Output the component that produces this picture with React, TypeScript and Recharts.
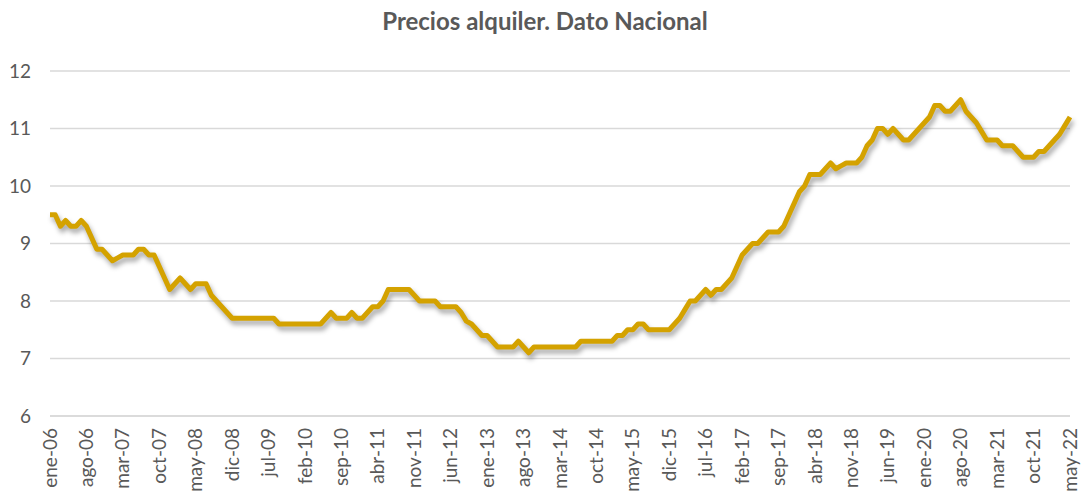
import { LineChart, Line, XAxis, YAxis, CartesianGrid } from 'recharts';

// monthly labels ene-06 .. may-22
const MONTHS = ['ene', 'feb', 'mar', 'abr', 'may', 'jun', 'jul', 'ago', 'sep', 'oct', 'nov', 'dic'];
const START_YEAR = 2006;

// precio medio alquiler (€/m2)
const PRICES = [
  9.5, 9.5, 9.3, 9.4, 9.3, 9.3, 9.4, 9.3, 9.1, 8.9,
  8.9, 8.8, 8.7, 8.75, 8.8, 8.8, 8.8, 8.9, 8.9, 8.8,
  8.8, 8.6, 8.4, 8.2, 8.3, 8.4, 8.3, 8.2, 8.3, 8.3,
  8.3, 8.1, 8.0, 7.9, 7.8, 7.7, 7.7, 7.7, 7.7, 7.7,
  7.7, 7.7, 7.7, 7.7, 7.6, 7.6, 7.6, 7.6, 7.6, 7.6,
  7.6, 7.6, 7.6, 7.7, 7.8, 7.7, 7.7, 7.7, 7.8, 7.7,
  7.7, 7.8, 7.9, 7.9, 8.0, 8.2, 8.2, 8.2, 8.2, 8.2,
  8.1, 8.0, 8.0, 8.0, 8.0, 7.9, 7.9, 7.9, 7.9, 7.8,
  7.65, 7.6, 7.5, 7.4, 7.4, 7.3, 7.2, 7.2, 7.2, 7.2,
  7.3, 7.2, 7.1, 7.2, 7.2, 7.2, 7.2, 7.2, 7.2, 7.2,
  7.2, 7.2, 7.3, 7.3, 7.3, 7.3, 7.3, 7.3, 7.3, 7.4,
  7.4, 7.5, 7.5, 7.6, 7.6, 7.5, 7.5, 7.5, 7.5, 7.5,
  7.6, 7.7, 7.85, 8.0, 8.0, 8.1, 8.2, 8.1, 8.2, 8.2,
  8.3, 8.4, 8.6, 8.8, 8.9, 9.0, 9.0, 9.1, 9.2, 9.2,
  9.2, 9.3, 9.5, 9.7, 9.9, 10.0, 10.2, 10.2, 10.2, 10.3,
  10.4, 10.3, 10.35, 10.4, 10.4, 10.4, 10.5, 10.7, 10.8, 11.0,
  11.0, 10.9, 11.0, 10.9, 10.8, 10.8, 10.9, 11.0, 11.1, 11.2,
  11.4, 11.4, 11.3, 11.3, 11.4, 11.5, 11.3, 11.2, 11.1, 10.95,
  10.8, 10.8, 10.8, 10.7, 10.7, 10.7, 10.6, 10.5, 10.5, 10.5,
  10.6, 10.6, 10.7, 10.8, 10.9, 11.05, 11.2,
];

const Y_TICKS = [6, 7, 8, 9, 10, 11, 12];

const data = PRICES.map((value, i) => {
  const m = i % 12;
  const yy = String((START_YEAR + Math.floor(i / 12)) % 100).padStart(2, '0');
  return { label: `${MONTHS[m]}-${yy}`, value };
});

const FONT = 'Lato, "Open Sans", sans-serif';
const TEXT = '#595959';

const MonthTick = (props: any) => {
  const { x, y, payload } = props;
  return (
    <text
      x={x}
      y={y}
      transform={`rotate(-90, ${x}, ${y})`}
      textAnchor="end"
      dy="0.35em"
      fill={TEXT}
      fontSize={19}
      fontFamily={FONT}
    >
      {payload.value}
    </text>
  );
};

const App = () => {
  return (
    <div style={{ position: 'relative', width: 1081, height: 494, background: '#fff' }}>
      <style>{`body{margin:0} .recharts-line-curve{filter:drop-shadow(2px 4px 2.5px rgba(0,0,0,0.35))}`}</style>
      <div
        style={{
          position: 'absolute',
          top: 6,
          left: 0,
          width: 1090,
          textAlign: 'center',
          fontFamily: FONT,
          fontWeight: 700,
          fontSize: 24,
          color: TEXT,
        }}
      >
        Precios alquiler. Dato Nacional
      </div>
      <LineChart
        width={1081}
        height={494}
        data={data}
        margin={{ top: 71, right: 11, left: 0, bottom: 0 }}
      >
        <CartesianGrid vertical={false} stroke="#d9d9d9" strokeWidth={1.5} />
        <XAxis
          dataKey="label"
          interval={6}
          height={78}
          tick={<MonthTick />}
          tickLine={false}
          tickSize={0}
          tickMargin={12}
          axisLine={{ stroke: '#d9d9d9', strokeWidth: 1.5 }}
        />
        <YAxis
          width={50}
          domain={[6, 12]}
          ticks={Y_TICKS}
          axisLine={false}
          tickLine={false}
          tickSize={0}
          tickMargin={19}
          tick={{ fill: TEXT, fontSize: 19, fontFamily: FONT }}
        />
        <Line
          type="linear"
          dataKey="value"
          stroke="#D4A200"
          strokeWidth={5}
          strokeLinejoin="round"
          dot={false}
          isAnimationActive={false}
        />
      </LineChart>
    </div>
  );
};

export default App;
